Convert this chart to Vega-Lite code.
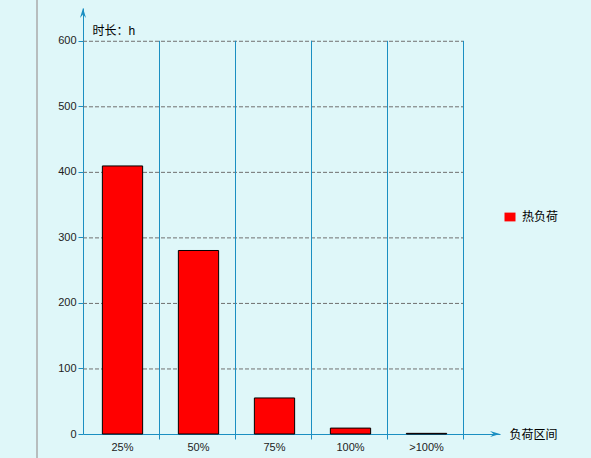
{
  "$schema": "https://vega.github.io/schema/vega-lite/v6.json",
  "width": 417,
  "height": 426,
  "autosize": {"type": "none"},
  "padding": {"left": 83, "top": 8, "right": 91, "bottom": 24},
  "background": "#dff7f9",
  "config": {
    "view": {"stroke": null},
    "font": "Liberation Sans",
    "axis": {
      "labelFont": "Liberation Sans",
      "labelFontSize": 11,
      "labelColor": "#222222",
      "domainColor": "#1b8fc2",
      "tickColor": "#1b8fc2",
      "tickSize": 5,
      "titleFont": "Liberation Sans, Noto Sans CJK SC",
      "titleFontSize": 12,
      "titleFontWeight": "normal",
      "titleColor": "#000000",
      "grid": false
    }
  },
  "datasets": {
    "bars": [
      {"cat": "25%", "hours": 409, "s": "热负荷"},
      {"cat": "50%", "hours": 280, "s": "热负荷"},
      {"cat": "75%", "hours": 55, "s": "热负荷"},
      {"cat": "100%", "hours": 9, "s": "热负荷"},
      {"cat": ">100%", "hours": 1, "s": "热负荷"}
    ],
    "grid": [{"v": 100}, {"v": 200}, {"v": 300}, {"v": 400}, {"v": 500}, {"v": 600}],
    "one": [{"k": 1}]
  },
  "layer": [
    {
      "data": {"name": "one"},
      "mark": {"type": "rule", "color": "#aaaaaa", "strokeWidth": 1.5, "xOffset": -46},
      "encoding": {
        "x": {"datum": "25%", "type": "nominal", "bandPosition": 0},
        "y": {"datum": -40, "type": "quantitative"},
        "y2": {"datum": 670}
      }
    },
    {
      "data": {"name": "grid"},
      "mark": {"type": "rule", "color": "#707070", "strokeDash": [4, 2], "strokeWidth": 1, "yOffset": 0.5},
      "encoding": {
        "x": {"datum": "25%", "type": "nominal", "bandPosition": 0},
        "x2": {"datum": ">100%", "bandPosition": 1},
        "y": {"field": "v", "type": "quantitative"}
      }
    },
    {
      "data": {"name": "bars"},
      "mark": {"type": "rule", "color": "#1b8fc2", "strokeWidth": 1, "xOffset": 0.5},
      "encoding": {
        "x": {"field": "cat", "type": "nominal", "bandPosition": 1, "sort": null},
        "y": {"datum": 0, "type": "quantitative"},
        "y2": {"datum": 600}
      }
    },
    {
      "data": {"name": "bars"},
      "mark": {"type": "bar", "stroke": "#000000", "strokeWidth": 1, "width": {"band": 0.53}, "xOffset": 1.5},
      "encoding": {
        "x": {
          "field": "cat",
          "type": "nominal",
          "sort": null,
          "scale": {"domain": ["25%", "50%", "75%", "100%", ">100%"], "paddingInner": 0, "paddingOuter": 0.24342, "align": 0},
          "axis": {
            "title": "负荷区间",
            "titleX": 426,
            "titleY": 0,
            "titleAlign": "left",
            "titleBaseline": "middle",
            "bandPosition": 1,
            "labelAngle": 0,
            "labelAlign": "center",
            "labelOffset": 1.5,
            "labelPadding": 8
          }
        },
        "y": {
          "field": "hours",
          "type": "quantitative",
          "scale": {"domain": [0, 650], "nice": false},
          "axis": {
            "values": [0, 100, 200, 300, 400, 500, 600],
            "title": "时长：h",
            "titleAngle": 0,
            "titleX": 9,
            "titleY": 22,
            "titleAlign": "left",
            "titleBaseline": "middle",
            "labelPadding": 2
          }
        },
        "color": {
          "field": "s",
          "type": "nominal",
          "scale": {"range": ["#ff0000"]},
          "legend": {
            "title": null,
            "orient": "none",
            "legendX": 421,
            "legendY": 203,
            "padding": 0,
            "symbolType": "M-1,-0.8H1V0.8H-1Z",
            "symbolSize": 121,
            "symbolStrokeWidth": 0,
            "symbolOpacity": 1,
            "labelFont": "Noto Sans CJK SC",
            "labelFontSize": 12,
            "labelColor": "#000000",
            "labelOffset": 6
          }
        }
      }
    },
    {
      "data": {"name": "one"},
      "mark": {"type": "point", "shape": "M0,0L0.6,2L0,1.3L-0.6,2Z", "filled": true, "size": 100, "color": "#1b8fc2", "opacity": 1},
      "encoding": {
        "x": {"datum": "25%", "type": "nominal", "bandPosition": 0},
        "y": {"datum": 650, "type": "quantitative"}
      }
    },
    {
      "data": {"name": "one"},
      "mark": {"type": "point", "shape": "M0,0L-2,-0.6L-1.3,0L-2,0.6Z", "filled": true, "size": 100, "color": "#1b8fc2", "opacity": 1, "xOffset": 37},
      "encoding": {
        "x": {"datum": ">100%", "type": "nominal", "bandPosition": 1},
        "y": {"datum": 0, "type": "quantitative"}
      }
    }
  ]
}
